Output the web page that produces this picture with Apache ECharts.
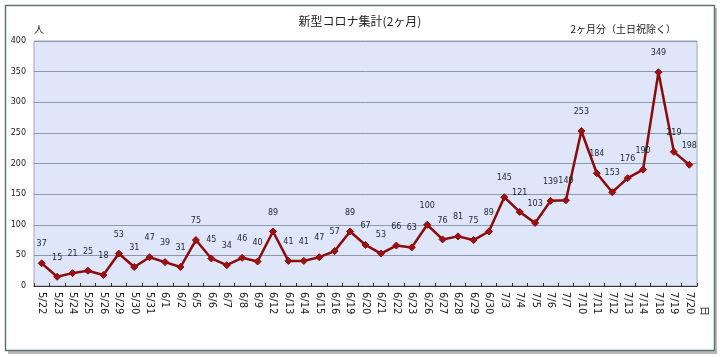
<!DOCTYPE html>
<html><head><meta charset="utf-8">
<script src="https://cdn.jsdelivr.net/npm/echarts@6/dist/echarts.min.js"></script>
<style>html,body{margin:0;padding:0;background:#fff}#c{width:720px;height:357px}</style>
</head><body><div id="c"></div>
<script>
const categories = ['5/22','5/23','5/24','5/25','5/26','5/29','5/30','5/31','6/1','6/2','6/5','6/6','6/7','6/8','6/9','6/12','6/13','6/14','6/15','6/16','6/19','6/20','6/21','6/22','6/23','6/26','6/27','6/28','6/29','6/30','7/3','7/4','7/5','7/6','7/7','7/10','7/11','7/12','7/13','7/14','7/18','7/19','7/20'];
const values = [37,15,21,25,18,53,31,47,39,31,75,45,34,46,40,89,41,41,47,57,89,67,53,66,63,100,76,81,75,89,145,121,103,139,140,253,184,153,176,190,349,219,198];
const yTicks = [0,50,100,150,200,250,300,350,400];
const titleText = '新型コロナ集計(2ヶ月)';
const noteText = '2ヶ月分（土日祝除く）';
const yUnit = '人';
const xUnit = '日';

const chart = echarts.init(document.getElementById('c'));
const F = '"Noto Sans CJK JP", "DejaVu Sans", sans-serif';
chart.setOption({
  animation: false,
  textStyle: {fontFamily: F},
  graphic: [
    {type:'rect', shape:{x:8, y:8, width:709, height:346}, style:{fill:'#b8b8b8'}, z:-20},
    {type:'rect', shape:{x:5.5, y:5.5, width:709, height:345}, style:{fill:'#fff', stroke:'#5f7373', lineWidth:1.5}, z:-10},
    {type:'text', left:'center', top:15, style:{text:titleText, font:'12px '+F, fill:'#222'}},
    {type:'text', right:44, top:24, style:{text:noteText, font:'10px '+F, fill:'#222'}},
    {type:'text', left:34, top:24, style:{text:yUnit, font:'10px '+F, fill:'#222'}},
    {type:'text', left:700, top:306, style:{text:xUnit, font:'10px '+F, fill:'#222'}, rotation:-Math.PI/2}
  ],
  grid: {left:34, right:23, top:41, bottom:71, show:true, backgroundColor:'#dfe6f9', borderColor:'#9aa9b8', borderWidth:1},
  xAxis: {
    type:'category', data:categories, boundaryGap:true,
    axisLine:{lineStyle:{color:'#333', width:1}},
    axisTick:{show:true, inside:true, length:3, lineStyle:{color:'#333'}},
    axisLabel:{rotate:-90, fontSize:10, color:'#222', margin:6, interval:0, fontFamily:'"DejaVu Sans", sans-serif'}
  },
  yAxis: {
    type:'value', min:0, max:400, interval:50,
    axisLine:{show:false}, axisTick:{show:false},
    axisLabel:{fontSize:8, color:'#222', margin:8, fontFamily:'"DejaVu Sans", sans-serif',
      formatter: v => yTicks.includes(v) ? String(v) : ''},
    splitLine:{lineStyle:{color:'#8a9aaa', width:1}}
  },
  series: [{
    type:'line', data:values,
    symbol:'diamond', symbolSize:7,
    lineStyle:{color:'#8b0a0a', width:2.5},
    itemStyle:{color:'#a01010', borderColor:'#8b0a0a'},
    label:{show:true, position:'top', distance:11, fontSize:8, color:'#1a2533', fontFamily:'"DejaVu Sans", sans-serif'}
  }]
});
</script></body></html>
